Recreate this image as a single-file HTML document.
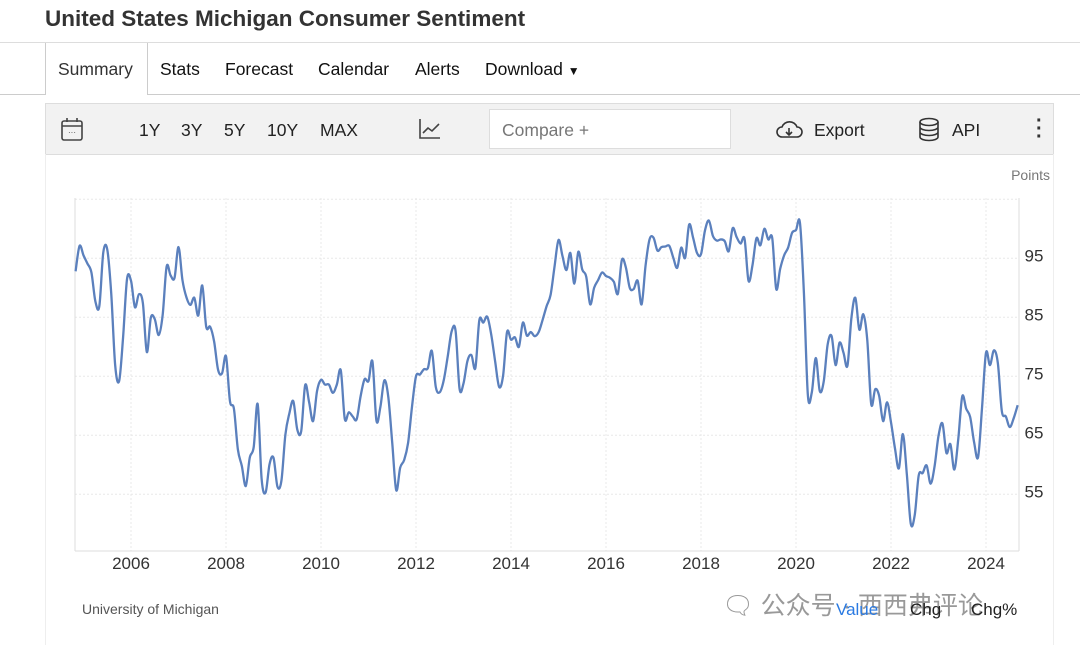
<!DOCTYPE html>
<html><head><meta charset="utf-8"><style>
body{margin:0;width:1080px;height:645px;background:#fff;font-family:"Liberation Sans",Arial,sans-serif;position:relative;overflow:hidden;color:#222}
.abs{position:absolute}
.tab{position:absolute;top:59px;font-size:17.5px;color:#111}
.tb{position:absolute;top:120px;font-size:17.5px;color:#222}
</style></head><body>
<div class="abs" style="left:45px;top:6px;font-size:22.5px;font-weight:bold;color:#333">United States Michigan Consumer Sentiment</div>
<div class="abs" style="left:0;top:42px;width:1080px;height:1px;background:#ddd"></div>
<div class="abs" style="left:0;top:94px;width:45px;height:1px;background:#ccc"></div>
<div class="abs" style="left:147px;top:94px;width:933px;height:1px;background:#ccc"></div>
<div class="abs" style="left:45px;top:43px;width:101px;height:52px;border-left:1px solid #ccc;border-right:1px solid #ccc;background:#fff"><div style="position:absolute;left:12px;top:16px;font-size:17.5px;color:#333">Summary</div></div>
<div class="tab" style="left:160px">Stats</div>
<div class="tab" style="left:225px">Forecast</div>
<div class="tab" style="left:318px">Calendar</div>
<div class="tab" style="left:415px">Alerts</div>
<div class="tab" style="left:485px">Download <span style="font-size:12px">▼</span></div>

<div class="abs" style="left:45px;top:103px;width:1007px;height:50px;background:#f2f2f2;border:1px solid #ddd"></div>
<svg class="abs" style="left:60px;top:117px" width="24" height="26" viewBox="0 0 24 26"><rect x="2" y="4" width="20" height="19" rx="2" fill="none" stroke="#444" stroke-width="1.6"/><line x1="2" y1="9" x2="22" y2="9" stroke="#444" stroke-width="1.6"/><line x1="7" y1="1" x2="7" y2="5" stroke="#444" stroke-width="1.6"/><line x1="17" y1="1" x2="17" y2="5" stroke="#444" stroke-width="1.6"/><text x="12" y="18" font-size="8" text-anchor="middle" fill="#444">···</text></svg>
<div class="tb" style="left:139px">1Y</div>
<div class="tb" style="left:181px">3Y</div>
<div class="tb" style="left:224px">5Y</div>
<div class="tb" style="left:267px">10Y</div>
<div class="tb" style="left:320px">MAX</div>
<svg class="abs" style="left:418px;top:117px" width="24" height="24"><polyline points="2,2 2,21 22,21" fill="none" stroke="#444" stroke-width="1.6"/><polyline points="5,16 10,11 14,14 21,7" fill="none" stroke="#444" stroke-width="1.6"/></svg>
<div class="abs" style="left:489px;top:109px;width:240px;height:38px;background:#fff;border:1px solid #ddd"><span style="position:absolute;left:12px;top:10px;font-size:17.5px;color:#777">Compare +</span></div>
<svg class="abs" style="left:774px;top:119px" width="30" height="22"><path d="M8 18 H23 A5 5 0 0 0 23 8 A8 8 0 0 0 8 8 A5 5 0 0 0 8 18 Z" fill="none" stroke="#333" stroke-width="1.6"/><line x1="15" y1="9" x2="15" y2="16" stroke="#333" stroke-width="1.6"/><polyline points="12,13 15,16 18,13" fill="none" stroke="#333" stroke-width="1.6"/></svg>
<div class="tb" style="left:814px">Export</div>
<svg class="abs" style="left:918px;top:117px" width="22" height="26"><ellipse cx="11" cy="5" rx="9" ry="3.5" fill="none" stroke="#333" stroke-width="1.6"/><path d="M2 5 V20 A9 3.5 0 0 0 20 20 V5 M2 10 A9 3.5 0 0 0 20 10 M2 15 A9 3.5 0 0 0 20 15" fill="none" stroke="#333" stroke-width="1.6"/></svg>
<div class="tb" style="left:952px">API</div>
<div class="abs" style="left:1036px;top:117px;font-size:20px;font-weight:bold;line-height:8px;color:#333">·<br>·<br>·</div>

<div class="abs" style="left:45px;top:154px;width:1007px;height:491px;border-left:1px solid #eee;border-right:1px solid #eee"></div>
<svg class="abs" id="chart" style="left:0;top:0" width="1080" height="645"></svg>
<div class="abs" style="left:82px;top:601px;font-size:14px;color:#555">University of Michigan</div>
<div class="abs" style="left:722px;top:586px;font-size:25px;color:#999;font-family:'Liberation Sans','Noto Sans CJK SC',sans-serif">🗨 公众号 · 西西弗评论</div>
<div class="abs" style="left:836px;top:600px;font-size:17px;color:#2a7ae2">Value</div>
<div class="abs" style="left:910px;top:600px;font-size:17px;color:#222">Chg</div>
<div class="abs" style="left:971px;top:600px;font-size:17px;color:#222">Chg%</div>

<script>
const startYear = 2004, startMonth = 10; // Nov 2004 (0-based month)
const values = [92.8,97.1,
95.5,94.1,92.6,87.7,86.9,96.0,96.5,89.1,76.9,74.2,81.6,91.5,
91.2,86.7,88.9,87.4,79.1,84.9,84.7,82.0,85.4,93.6,92.1,91.7,
96.9,91.3,88.4,87.1,88.3,85.3,90.4,83.4,83.4,80.9,76.1,75.5,
78.4,70.8,69.5,62.6,59.8,56.4,61.2,63.0,70.3,57.6,55.3,60.1,
61.2,56.3,57.3,65.1,68.7,70.8,66.0,65.7,73.5,70.6,67.4,72.5,
74.4,73.6,73.6,72.2,73.6,76.0,67.8,68.9,68.2,67.7,71.6,74.5,
74.2,77.5,67.5,69.8,74.3,71.5,63.7,55.7,59.5,60.8,63.7,69.9,
75.0,75.3,76.2,76.4,79.3,73.2,72.3,74.3,78.3,82.6,82.7,72.9,
73.8,77.6,78.6,76.4,84.5,84.1,85.1,82.1,77.5,73.2,75.1,82.5,
81.2,81.6,80.0,84.1,81.9,82.5,81.8,82.5,84.6,86.9,88.8,93.6,
98.1,95.4,93.0,95.9,90.7,96.1,93.1,91.9,87.2,90.0,91.3,92.6,
92.0,91.7,91.0,89.0,94.7,93.5,90.0,89.8,91.2,87.2,93.8,98.2,
98.5,96.3,96.9,97.0,97.1,95.1,93.4,96.8,95.1,100.7,98.5,95.9,
95.7,99.7,101.4,98.8,98.0,98.2,97.9,96.2,100.1,98.6,97.5,98.3,
91.2,93.8,98.4,97.2,100.0,98.2,98.4,89.8,93.2,95.5,96.8,99.3,
99.8,101.0,89.1,71.8,72.3,78.1,72.5,74.1,80.4,81.8,76.9,80.7,
79.0,76.8,84.9,88.3,82.9,85.5,81.2,70.3,72.8,71.7,67.4,70.6,
67.2,62.8,59.4,65.2,58.4,50.0,51.5,58.2,58.6,59.9,56.8,59.7,
64.9,67.0,62.0,63.5,59.2,64.4,71.6,69.5,68.1,63.8,61.3,69.7,
79.0,76.9,79.4,77.2,69.1,68.2,66.4,67.9,70.1];
const xTicks = [2006,2008,2010,2012,2014,2016,2018,2020,2022,2024];
const yTicks = [55,65,75,85,95];
const yGrid = [55,65,75,85,95,105];

const X0=75, X1=1019, Y0=198, Y1=551;
const xs = t => 131 + (t-2006)*47.5;
const ys = v => 258.3 + (95-v)*5.9;
const NS='http://www.w3.org/2000/svg';
const svg=document.getElementById('chart');
function mk(tag,attrs){const e=document.createElementNS(NS,tag);for(const k in attrs)e.setAttribute(k,attrs[k]);svg.appendChild(e);return e;}

yGrid.forEach(v=>{
  const l=mk('line',{x1:X0,x2:X1,y1:ys(v),y2:ys(v),stroke:'#e8e8e8','stroke-dasharray':'2,2'});
  
  
});
xTicks.forEach(t=>{
  const l=mk('line',{x1:xs(t),x2:xs(t),y1:Y0,y2:Y1,stroke:'#e8e8e8','stroke-dasharray':'2,2'});
  
  
  const tx=mk('text',{x:xs(t),y:569,'text-anchor':'middle','font-size':'17',fill:'#333'});
  tx.textContent=t;
  
  
});
yTicks.forEach(v=>{
  const tx=mk('text',{x:1034,y:ys(v)+3,'text-anchor':'middle','font-size':'17',fill:'#333'});
  tx.textContent=v;
  
  
});
const ax=mk('line',{x1:X0,x2:X1,y1:Y1,y2:Y1,stroke:'#ddd'});


const ay=mk('line',{x1:X0,x2:X0,y1:Y0,y2:Y1,stroke:'#ddd'});


const ay2=mk('line',{x1:X1,x2:X1,y1:Y0,y2:Y1,stroke:'#ddd'});


const unit=mk('text',{x:1050,y:180,'text-anchor':'end','font-size':'14',fill:'#777'});
unit.textContent='Points';



const pts=values.map((v,i)=>[xs(startYear+(startMonth+i)/12),ys(v)]);
let d='M'+pts[0][0]+','+pts[0][1];
for(let i=0;i<pts.length-1;i++){
  const p0=pts[i-1]||pts[i],p1=pts[i],p2=pts[i+1],p3=pts[i+2]||p2;
  const c1=[p1[0]+(p2[0]-p0[0])/6,p1[1]+(p2[1]-p0[1])/6];
  const c2=[p2[0]-(p3[0]-p1[0])/6,p2[1]-(p3[1]-p1[1])/6];
  d+=`C${c1[0]},${c1[1]} ${c2[0]},${c2[1]} ${p2[0]},${p2[1]}`;
}
const line=mk('path',{d:d,fill:'none',stroke:'#5b80bd','stroke-width':'2.3','stroke-linejoin':'round'});


</script>
</body></html>
